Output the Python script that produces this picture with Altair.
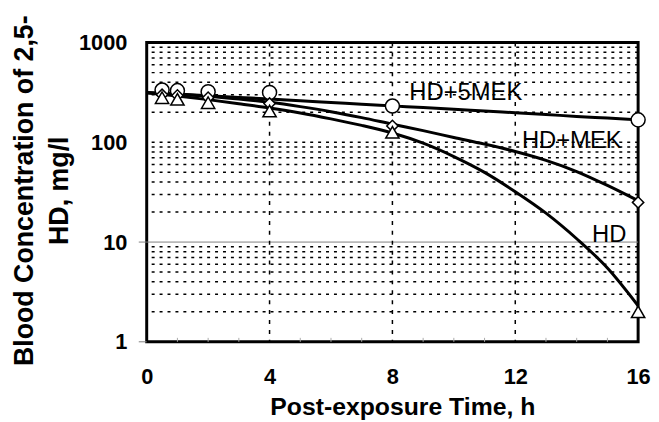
import altair as alt
import pandas as pd

# ---- data ----
curve_t = [0, 1, 2, 3, 4, 5, 6, 7, 8, 9, 10, 11, 12, 13, 14, 15, 16]
hd_curve = [314, 292, 268, 244, 221, 197, 172, 148, 124, 98, 72, 50, 32, 19.5, 10.8, 5.5, 2.3]
hdmek_curve = [314, 303, 290, 272, 252, 228, 203, 177, 152, 131, 112, 96, 81, 66, 51, 37, 26]
hd5mek_curve = [316, 305, 293, 282, 272, 261, 251, 241, 232, 223, 215, 206, 198, 190, 182, 175, 168]

obs_t = [0.5, 1, 2, 4, 8, 16]
hd5mek_obs = [334, 330, 322, 316, 231, 168]
hdmek_obs = [300, 295, 280, 245, 146, 25]
hd_obs = [280, 270, 250, 206, 126, 2.0]

x_ticks = [0, 4, 8, 12, 16]
y_ticks = [1, 10, 100, 1000]
y_outer_ticks = [1, 10]
x_grid = [4, 8, 12]
x_minor = [1, 2, 3, 5, 6, 7, 9, 10, 11, 13, 14, 15]
y_grid_solid = [10]
y_grid_dotted = [2, 3, 4, 5, 6, 7, 8, 9, 20, 30, 40, 50, 60, 70, 80, 90,
                 100, 200, 300, 400, 500, 600, 700, 800, 900]

label_names = ["HD+5MEK", "HD+MEK", "HD"]
label_t = [10.39, 13.84, 15.06]
label_v = [265, 88.6, 10.0]

# ---- tables ----
curves = pd.DataFrame({
    "t": curve_t * 3,
    "v": hd_curve + hdmek_curve + hd5mek_curve,
    "s": ["HD"] * len(curve_t) + ["HD+MEK"] * len(curve_t) + ["HD+5MEK"] * len(curve_t),
})
circ = pd.DataFrame({"t": obs_t, "v": hd5mek_obs})
diam = pd.DataFrame({"t": obs_t, "v": hdmek_obs})
tri = pd.DataFrame({"t": obs_t, "v": hd_obs})
labels = pd.DataFrame({"t": label_t, "v": label_v, "name": label_names})
xg = pd.DataFrame({"t": x_grid})
xm = pd.DataFrame({"t": x_minor})
yg_s = pd.DataFrame({"v": y_grid_solid})
yg_d = pd.DataFrame({"v": y_grid_dotted})
yt = pd.DataFrame({"v": y_outer_ticks})

W, H = 496, 302
FONT = "Liberation Sans"
xs = alt.Scale(domain=[0, 16], nice=False, zero=False)
ys = alt.Scale(type="log", domain=[1, 1000], nice=False)

x_axis = alt.Axis(
    values=x_ticks, title="Post-exposure Time, h", grid=False, domain=False,
    ticks=False, labelFont=FONT, labelFontWeight="bold", labelFontSize=22,
    labelColor="black", labelPadding=25, labelBaseline="top", labelFlush=False,
    labelOverlap=False, titleFont=FONT, titleFontWeight="bold", titleFontSize=25,
    titleColor="black", titleX=258, titleY=73, titleAlign="center",
    titleBaseline="alphabetic",
)
y_axis = alt.Axis(
    values=y_ticks, format="d", title=["Blood Concentration of 2,5-", "HD, mg/l"],
    grid=False, domain=False, ticks=False,
    labelFont=FONT, labelFontWeight="bold", labelFontSize=22, labelColor="black",
    labelPadding=20, labelBaseline="middle", labelFlush=False, labelOverlap=False,
    titleFont=FONT, titleFontWeight="bold", titleFontSize=27, titleColor="black",
    titleX=-115, titleY=149, titleAngle=270, titleAlign="center",
    titleBaseline="alphabetic", titleLineHeight=35,
)

X = alt.X("t:Q", scale=xs, axis=x_axis)
Y = alt.Y("v:Q", scale=ys, axis=y_axis)

hgrid_d = alt.Chart(yg_d).mark_rule(color="black", strokeWidth=1.5, strokeDash=[3, 5]).encode(y=Y)
hgrid_s = alt.Chart(yg_s).mark_rule(color="#808080", strokeWidth=1).encode(y=Y)
yticks_out = alt.Chart(yt).mark_rule(color="#808080", strokeWidth=1).encode(
    y=Y, x=alt.value(-8), x2=alt.value(0))
vgrid = alt.Chart(xg).mark_rule(color="black", strokeWidth=1.5, strokeDash=[4, 6]).encode(x=X)
xminor = alt.Chart(xm).mark_rule(color="#aaaaaa", strokeWidth=1).encode(
    x=X, y=alt.value(H), y2=alt.value(H - 4))

lines = alt.Chart(curves).mark_line(color="black", strokeWidth=3, interpolate="monotone").encode(
    x=X, y=Y, detail="s:N")

def pts(df, shape, size):
    return alt.Chart(df).mark_point(shape=shape, size=size, filled=True, fill="white",
                                    stroke="black", strokeWidth=1.5, opacity=1).encode(x=X, y=Y)

circles = pts(circ, "circle", 200)
diamonds = pts(diam, "diamond", 130)
triangles = pts(tri, "triangle-up", 180)

texts = alt.Chart(labels).mark_text(font=FONT, fontSize=24, color="black", align="center",
                                    baseline="alphabetic").encode(x=X, y=Y, text="name:N")

chart = alt.layer(hgrid_d, hgrid_s, yticks_out, vgrid, xminor, lines, circles, diamonds,
                  triangles, texts).properties(
    width=W, height=H,
    padding={"left": 140, "top": 33, "right": 13, "bottom": 78},
    autosize=alt.AutoSizeParams(type="none"),
).configure_view(stroke="black", strokeWidth=3)

chart.save("out.html", embed_options={"renderer": "svg", "actions": False})
